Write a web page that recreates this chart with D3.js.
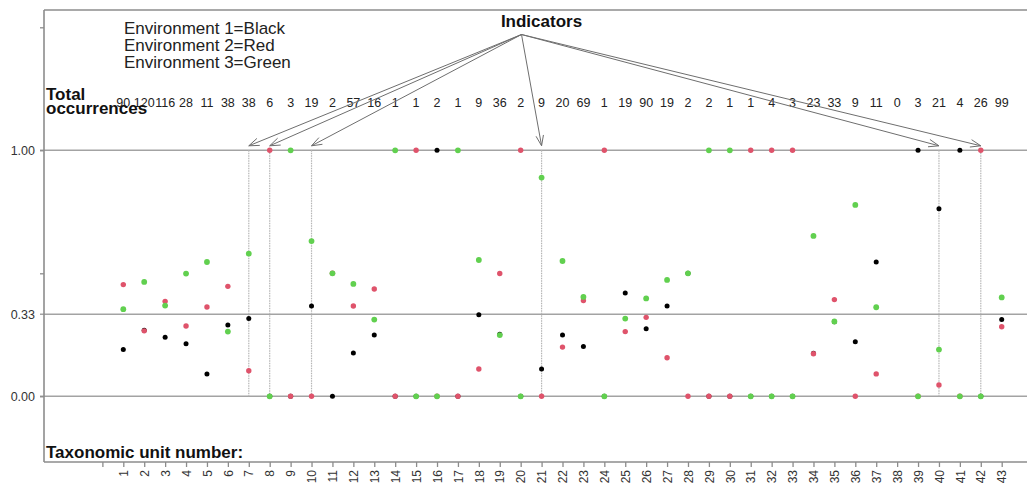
<!DOCTYPE html>
<html>
<head>
<meta charset="utf-8">
<script src="https://cdn.jsdelivr.net/npm/d3@7"></script>
<style>
  html, body { margin: 0; padding: 0; background: #fff; }
  svg { display: block; font-family: "Liberation Sans", Arial, sans-serif; }
</style>
</head>
<body>
<svg id="chart" width="1027" height="485"></svg>
<script>
// Taxonomic units along the x axis
const units = [1,2,3,4,5,6,7,8,9,10,11,12,13,14,15,16,17,18,19,20,21,22,23,24,25,26,27,28,29,30,31,32,33,34,35,36,37,38,39,40,41,42,43];

// Total occurrences of each unit
const totals = [90,120,116,28,11,38,38,6,3,19,2,57,16,1,1,2,1,9,36,2,9,20,69,1,19,90,19,2,2,1,1,4,3,23,33,9,11,0,3,21,4,26,99];

// Proportion of occurrences per environment (null = no occurrences)
const env1 = [0.190,0.269,0.240,0.214,0.091,0.290,0.316,0,0,0.367,0,0.176,0.249,0,0,1,0,0.332,0.252,0,0.111,0.249,0.202,0,0.420,0.275,0.367,0.5,0,0,0,0,0,0.175,0.303,0.222,0.546,null,1,0.762,1,0,0.312];
const env2 = [0.454,0.266,0.386,0.286,0.363,0.447,0.104,1,0,0,0.5,0.367,0.436,0,1,0,0,0.111,0.499,1,0,0.200,0.389,1,0.263,0.321,0.157,0,0,0,1,1,1,0.173,0.393,0,0.091,null,0,0.046,0,1,0.283];
const env3 = [0.354,0.465,0.369,0.499,0.546,0.263,0.580,0,1,0.631,0.5,0.457,0.312,1,0,0,1,0.554,0.249,0,0.889,0.550,0.404,0,0.316,0.398,0.473,0.5,1,1,0,0,0,0.652,0.304,0.778,0.362,null,0,0.190,0,0,0.402];

// Units flagged as indicators
const indicators = [7, 8, 10, 21, 40, 42];

// Axis ticks and labelled reference levels
const yTicks = [0, 0.5, 1, 1.5];
const yLevels = [0, 1/3, 1];
const yLevelLabels = ["0.00", "0.33", "1.00"];

const legendLines = ["Environment 1=Black", "Environment 2=Red", "Environment 3=Green"];
const envColors = ["#000000", "#DF536B", "#61D04F"];
// later layers are drawn a touch larger so coincident points underneath stay hidden
const envRadius = [2.5, 2.7, 2.9];

const svg = d3.select("#chart");
const frame = { left: 44, top: 10, right: 1027, bottom: 462 };

const x = d3.scaleLinear().domain([1, 43]).range([123.3, 1001.7]);
const y = d3.scaleLinear().domain([0, 1]).range([396.3, 150.3]);

const gridColor = "#a3a3a3";
const axisColor = "#8c8c8c";

// Reference levels
svg.append("g").selectAll("line").data(yLevels).join("line")
  .attr("x1", frame.left - 4).attr("x2", frame.right)
  .attr("y1", d => y(d)).attr("y2", d => y(d))
  .attr("stroke", gridColor).attr("stroke-width", 1.6);

// Frame: top edge
svg.append("line").attr("x1", frame.left).attr("x2", frame.right)
  .attr("y1", frame.top).attr("y2", frame.top)
  .attr("stroke", axisColor).attr("stroke-width", 1.4);

// Left axis (ticks only), labelled levels added separately
const yAxis = d3.axisLeft(y).tickValues(yTicks).tickFormat("").tickSize(4).tickSizeOuter(0);
const gy = svg.append("g").attr("transform", `translate(${frame.left},0)`).call(yAxis);
gy.select(".domain").remove();
gy.selectAll(".tick line").attr("stroke", axisColor).attr("stroke-width", 1.3);
svg.append("line").attr("x1", frame.left).attr("x2", frame.left)
  .attr("y1", frame.top).attr("y2", frame.bottom)
  .attr("stroke", axisColor).attr("stroke-width", 1.6);

svg.append("g").selectAll("text").data(yLevels).join("text")
  .attr("x", 35).attr("y", d => y(d)).attr("dy", "0.35em")
  .attr("text-anchor", "end").attr("font-size", 12.5).attr("fill", "#333")
  .text((d, i) => yLevelLabels[i]);

// Bottom axis with rotated unit numbers
const xAxis = d3.axisBottom(x).tickValues([0].concat(units))
  .tickFormat(d => d === 0 ? "" : d).tickSize(5).tickSizeOuter(0);
const gx = svg.append("g").attr("transform", `translate(0,${frame.bottom})`).call(xAxis);
gx.select(".domain").remove();
gx.selectAll(".tick line").attr("stroke", axisColor).attr("stroke-width", 1.3);
gx.selectAll(".tick text")
  .attr("transform", "rotate(-90)")
  .attr("text-anchor", "end")
  .attr("x", -8).attr("y", 0).attr("dy", "0.35em")
  .attr("font-size", 12).attr("fill", "#333")
  .style("font-family", "\"Liberation Sans\", Arial, sans-serif");
svg.append("line").attr("x1", frame.left).attr("x2", frame.right)
  .attr("y1", frame.bottom).attr("y2", frame.bottom)
  .attr("stroke", axisColor).attr("stroke-width", 1.6);

// Vertical guides at indicator units
svg.append("g").selectAll("line").data(indicators).join("line")
  .attr("x1", d => x(d)).attr("x2", d => x(d))
  .attr("y1", y(1)).attr("y2", y(0))
  .attr("stroke", "#b5b5b5").attr("stroke-width", 1.2)
  .attr("stroke-dasharray", "1.5,1");

// Points: black first, then red, then green on top
[env1, env2, env3].forEach((vals, k) => {
  svg.append("g").selectAll("circle")
    .data(units.map((u, i) => ({ u, v: vals[i] })).filter(d => d.v !== null))
    .join("circle")
    .attr("cx", d => x(d.u)).attr("cy", d => y(d.v))
    .attr("r", envRadius[k]).attr("fill", envColors[k]);
});

// Totals row
svg.append("g").selectAll("text").data(units).join("text")
  .attr("x", d => x(d)).attr("y", 107)
  .attr("text-anchor", "middle").attr("font-size", 12.5).attr("fill", "#222")
  .text((d, i) => totals[i]);

svg.append("text").attr("x", 46).attr("y", 100)
  .attr("font-size", 17).attr("font-weight", "bold").attr("fill", "#111")
  .text("Total");
svg.append("text").attr("x", 46).attr("y", 114)
  .attr("font-size", 17).attr("font-weight", "bold").attr("fill", "#111")
  .text("occurrences");

// Legend text
svg.append("g").selectAll("text").data(legendLines).join("text")
  .attr("x", 124).attr("y", (d, i) => 34 + i * 17)
  .attr("font-size", 17).attr("fill", "#222")
  .text(d => d);

// Indicator title and arrows
const origin = { x: 521.5, y: 34.5 };
svg.append("text").attr("x", 541.5).attr("y", 27)
  .attr("text-anchor", "middle").attr("font-size", 17).attr("font-weight", "bold")
  .attr("fill", "#111").text("Indicators");

const tipY = y(1) - 4.5;
const arrows = svg.append("g").attr("stroke", "#6e6e6e").attr("stroke-width", 1).attr("fill", "none");
indicators.forEach(u => {
  const tx = x(u), ty = tipY;
  const ang = Math.atan2(ty - origin.y, tx - origin.x);
  const len = 11, spread = Math.PI / 9;
  arrows.append("line").attr("x1", origin.x).attr("y1", origin.y).attr("x2", tx).attr("y2", ty);
  const p1 = [tx - len * Math.cos(ang - spread), ty - len * Math.sin(ang - spread)];
  const p2 = [tx - len * Math.cos(ang + spread), ty - len * Math.sin(ang + spread)];
  arrows.append("path").attr("d", `M${p1[0]},${p1[1]}L${tx},${ty}L${p2[0]},${p2[1]}`);
});

// Axis caption
svg.append("text").attr("x", 46).attr("y", 458)
  .attr("font-size", 17).attr("font-weight", "bold").attr("fill", "#111")
  .text("Taxonomic unit number:");
</script>
</body>
</html>
